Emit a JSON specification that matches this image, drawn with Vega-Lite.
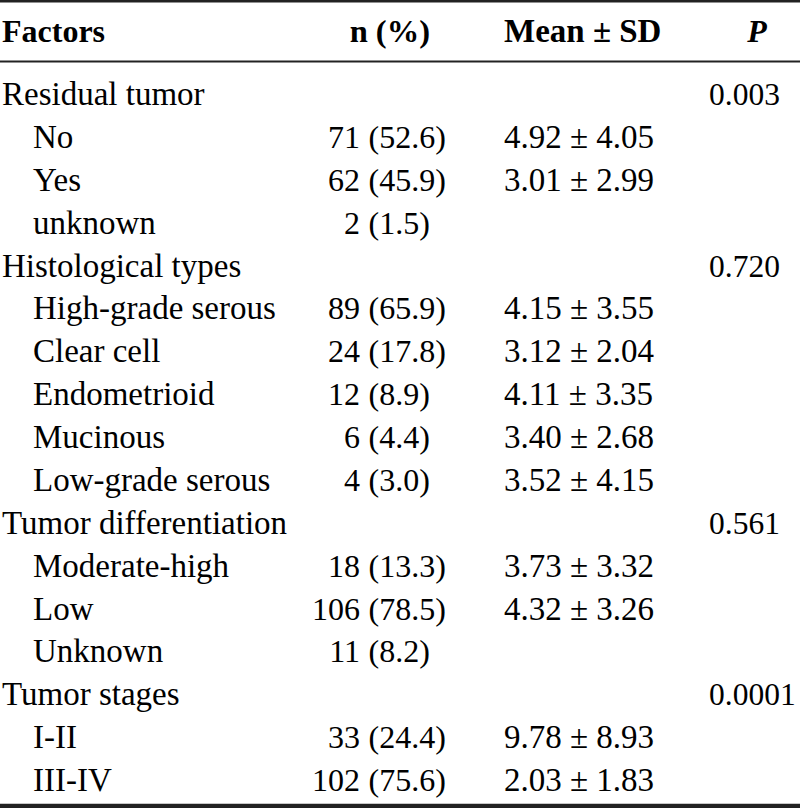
{
  "$schema": "https://vega.github.io/schema/vega-lite/v6.json",
  "width": 800,
  "height": 808,
  "padding": 0,
  "autosize": {"type": "none"},
  "background": "white",
  "config": {"view": {"stroke": null}, "text": {"font": "Liberation Serif", "fontSize": 32, "baseline": "alphabetic", "color": "#000000"}},
  "datasets": {
    "body": [
      {"row": 1, "factor": "Residual tumor", "level": 0, "n": null, "pct": null, "mean": null, "p": "0.003"},
      {"row": 2, "factor": "No", "level": 1, "n": "71", "pct": "(52.6)", "mean": "4.92 ± 4.05", "p": null},
      {"row": 3, "factor": "Yes", "level": 1, "n": "62", "pct": "(45.9)", "mean": "3.01 ± 2.99", "p": null},
      {"row": 4, "factor": "unknown", "level": 1, "n": "2", "pct": "(1.5)", "mean": null, "p": null},
      {"row": 5, "factor": "Histological types", "level": 0, "n": null, "pct": null, "mean": null, "p": "0.720"},
      {"row": 6, "factor": "High-grade serous", "level": 1, "n": "89", "pct": "(65.9)", "mean": "4.15 ± 3.55", "p": null},
      {"row": 7, "factor": "Clear cell", "level": 1, "n": "24", "pct": "(17.8)", "mean": "3.12 ± 2.04", "p": null},
      {"row": 8, "factor": "Endometrioid", "level": 1, "n": "12", "pct": "(8.9)", "mean": "4.11 ± 3.35", "p": null},
      {"row": 9, "factor": "Mucinous", "level": 1, "n": "6", "pct": "(4.4)", "mean": "3.40 ± 2.68", "p": null},
      {"row": 10, "factor": "Low-grade serous", "level": 1, "n": "4", "pct": "(3.0)", "mean": "3.52 ± 4.15", "p": null},
      {"row": 11, "factor": "Tumor differentiation", "level": 0, "n": null, "pct": null, "mean": null, "p": "0.561"},
      {"row": 12, "factor": "Moderate-high", "level": 1, "n": "18", "pct": "(13.3)", "mean": "3.73 ± 3.32", "p": null},
      {"row": 13, "factor": "Low", "level": 1, "n": "106", "pct": "(78.5)", "mean": "4.32 ± 3.26", "p": null},
      {"row": 14, "factor": "Unknown", "level": 1, "n": "11", "pct": "(8.2)", "mean": null, "p": null},
      {"row": 15, "factor": "Tumor stages", "level": 0, "n": null, "pct": null, "mean": null, "p": "0.0001"},
      {"row": 16, "factor": "I-II", "level": 1, "n": "33", "pct": "(24.4)", "mean": "9.78 ± 8.93", "p": null},
      {"row": 17, "factor": "III-IV", "level": 1, "n": "102", "pct": "(75.6)", "mean": "2.03 ± 1.83", "p": null}
    ],
    "header": [
      {"row": 0, "label": "Factors", "col": 0},
      {"row": 0, "label": "n (%)", "col": 6},
      {"row": 0, "label": "Mean ± SD", "col": 4},
      {"row": 0, "label": "P", "col": 7}
    ]
  },
  "resolve": {"scale": {"x": "shared", "y": "shared"}},
  "layer": [
    {
      "data": {"name": "body"},
      "mark": {"type": "text", "align": "left", "fontSize": 33},
      "encoding": {
        "x": {"field": "level", "type": "quantitative", "axis": null, "scale": {"type": "linear", "domain": [0, 1, 2, 3, 4, 5, 6, 7], "range": [2, 33, 360, 368.5, 504, 709, 430, 757], "zero": false, "nice": false}},
        "y": {"field": "row", "type": "quantitative", "axis": null, "scale": {"type": "linear", "domain": [0, 1, 17], "range": [42, 105, 791], "zero": false, "nice": false}},
        "text": {"field": "factor"}
      }
    },
    {
      "data": {"name": "body"},
      "transform": [{"filter": "datum.n != null"}],
      "mark": {"type": "text", "align": "right"},
      "encoding": {
        "x": {"datum": 2, "type": "quantitative"},
        "y": {"field": "row", "type": "quantitative"},
        "text": {"field": "n"}
      }
    },
    {
      "data": {"name": "body"},
      "transform": [{"filter": "datum.pct != null"}],
      "mark": {"type": "text", "align": "left"},
      "encoding": {
        "x": {"datum": 3, "type": "quantitative"},
        "y": {"field": "row", "type": "quantitative"},
        "text": {"field": "pct"}
      }
    },
    {
      "data": {"name": "body"},
      "transform": [{"filter": "datum.mean != null"}],
      "mark": {"type": "text", "align": "left", "fontSize": 33},
      "encoding": {
        "x": {"datum": 4, "type": "quantitative"},
        "y": {"field": "row", "type": "quantitative"},
        "text": {"field": "mean"}
      }
    },
    {
      "data": {"name": "body"},
      "transform": [{"filter": "datum.p != null"}],
      "mark": {"type": "text", "align": "left", "fontSize": 31.5},
      "encoding": {
        "x": {"datum": 5, "type": "quantitative"},
        "y": {"field": "row", "type": "quantitative"},
        "text": {"field": "p"}
      }
    },
    {
      "data": {"name": "header"},
      "transform": [{"filter": "datum.col == 0"}],
      "mark": {"type": "text", "align": "left", "fontWeight": "bold"},
      "encoding": {
        "x": {"field": "col", "type": "quantitative"},
        "y": {"field": "row", "type": "quantitative"},
        "text": {"field": "label"}
      }
    },
    {
      "data": {"name": "header"},
      "transform": [{"filter": "datum.col == 4"}],
      "mark": {"type": "text", "align": "left", "fontWeight": "bold", "fontSize": 33},
      "encoding": {
        "x": {"field": "col", "type": "quantitative"},
        "y": {"field": "row", "type": "quantitative"},
        "text": {"field": "label"}
      }
    },
    {
      "data": {"name": "header"},
      "transform": [{"filter": "datum.col == 6"}],
      "mark": {"type": "text", "align": "right", "fontWeight": "bold", "fontSize": 32.5},
      "encoding": {
        "x": {"field": "col", "type": "quantitative"},
        "y": {"field": "row", "type": "quantitative"},
        "text": {"field": "label"}
      }
    },
    {
      "data": {"name": "header"},
      "transform": [{"filter": "datum.col == 7"}],
      "mark": {"type": "text", "align": "center", "fontWeight": "bold", "fontStyle": "italic"},
      "encoding": {
        "x": {"field": "col", "type": "quantitative"},
        "y": {"field": "row", "type": "quantitative"},
        "text": {"field": "label"}
      }
    },
    {
      "data": {"values": [{}]},
      "mark": {"type": "rule", "color": "#222222", "strokeWidth": 3},
      "encoding": {"y": {"datum": -0.65, "type": "quantitative"}}
    },
    {
      "data": {"values": [{}]},
      "mark": {"type": "rule", "color": "#222222", "strokeWidth": 2},
      "encoding": {"y": {"datum": 0.31, "type": "quantitative"}}
    },
    {
      "data": {"values": [{}]},
      "mark": {"type": "rule", "color": "#222222", "strokeWidth": 4.5},
      "encoding": {"y": {"datum": 17.35, "type": "quantitative"}}
    }
  ]
}
